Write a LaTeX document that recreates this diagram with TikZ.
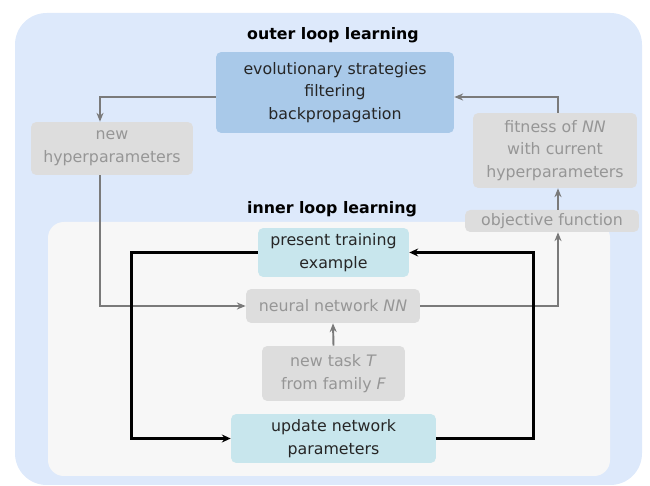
\documentclass[tikz,border=0pt]{standalone}
\usepackage{fontspec}
\setmainfont{DejaVu Sans}
\usetikzlibrary{arrows.meta, positioning, calc}
\definecolor{outerblue}{RGB}{221,233,251}
\definecolor{innergray}{RGB}{247,247,247}
\definecolor{boxblue}{RGB}{169,201,233}
\definecolor{boxteal}{RGB}{200,230,237}
\definecolor{boxgray}{RGB}{221,221,221}
\definecolor{textgray}{RGB}{150,150,150}
\definecolor{arrowgray}{RGB}{122,122,122}

\begin{document}
\begin{tikzpicture}[x=0.02cm, y=-0.02cm,
    box/.style={rectangle, rounded corners=3pt, inner sep=0pt, align=center, text=black!85, font=\fontsize{9}{13}\selectfont},
    greybox/.style={box, fill=boxgray, text=textgray},
    looptitle/.style={font=\fontsize{9}{11}\selectfont\bfseries},
    greyarrow/.style={-{Stealth[length=5pt, width=4pt]}, line width=1.1pt, arrowgray},
    blackarrow/.style={-{Stealth[length=5pt, width=4.5pt]}, line width=1.4pt, black}
]
\useasboundingbox (0,0) rectangle (650,486);

% Background panels
\fill[outerblue, rounded corners=18pt] (15,13) rectangle (642,485);
\fill[innergray, rounded corners=9pt] (48,222) rectangle (610,476);

% Titles
\node[looptitle] (outertitle) at (333,35) {outer loop learning};
\node[looptitle] (innertitle) at (332,209) {inner loop learning};

% Outer loop
\node[box, fill=boxblue, minimum width=4.76cm, minimum height=1.62cm] (evo) at (335,92.5) {evolutionary strategies\\filtering\\backpropagation};
\node[greybox, minimum width=3.24cm, minimum height=1.06cm] (newhyp) at (112,148.5) {new\\hyperparameters};
\node[greybox, minimum width=3.28cm, minimum height=1.5cm] (fitness) at (555,150.5) {fitness of \textit{NN}\\with current\\hyperparameters};
\node[greybox, minimum width=3.48cm, minimum height=0.44cm] (objective) at (552,221) {objective function};

% Inner loop
\node[box, fill=boxteal, minimum width=3.02cm, minimum height=0.98cm] (present) at (333.5,252.5) {present training\\example};
\node[greybox, minimum width=3.48cm, minimum height=0.68cm] (neural) at (333,306) {neural network \textit{NN}};
\node[greybox, minimum width=2.86cm, minimum height=1.1cm] (task) at (333.5,373.5) {new task \textit{T}\\from family \textit{F}};
\node[box, fill=boxteal, minimum width=4.1cm, minimum height=0.98cm] (update) at (333.5,438.5) {update network\\parameters};

% Grey arrows of the outer loop
\coordinate (hypin) at ($(newhyp.north)+(-12,0)$);
\coordinate (hypout) at ($(newhyp.south)+(-12,0)$);
\coordinate (fitin) at ($(fitness.south)+(3,0)$);
\coordinate (fitout) at ($(fitness.north)+(3,0)$);
\coordinate (objin) at ($(objective.south)+(6,0)$);
\coordinate (objout) at ($(objective.north)+(6,0)$);
\draw[greyarrow] ($(evo.west)+(0,4.5)$) -| (hypin);
\draw[greyarrow] (fitout) |- ($(evo.east)+(0,4.5)$);
\draw[greyarrow] (hypout) |- (neural.west);
\draw[greyarrow] (neural.east) -| (objin);
\draw[greyarrow] (objout) -- (fitin);
\draw[greyarrow] (task.north) -- (neural.south);

% Black arrows of the inner loop
\draw[blackarrow] (present.west) -- ++(-126,0) |- (update.west);
\draw[blackarrow] (update.east) -- ++(97,0) |- (present.east);
\end{tikzpicture}
\end{document}
